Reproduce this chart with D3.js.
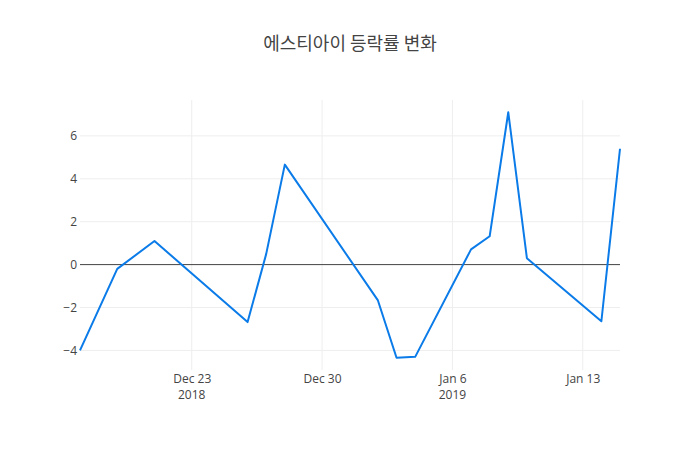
<!DOCTYPE html>
<html>
<head>
<meta charset="utf-8">
<script src="https://cdn.jsdelivr.net/npm/d3@7"></script>
<style>
  body { margin: 0; background: #fff; }
  text { font-family: "Open Sans", "Noto Sans CJK KR", sans-serif; fill: #444; }
</style>
</head>
<body>
<div id="chart"></div>
<script>
// trading days and daily change (%)
var dates = ['2018-12-17', '2018-12-19', '2018-12-21', '2018-12-26', '2018-12-27', '2018-12-28',
  '2019-01-02', '2019-01-03', '2019-01-04', '2019-01-07', '2019-01-08', '2019-01-09',
  '2019-01-10', '2019-01-14', '2019-01-15'];
var changes = [-4.0, -0.2, 1.1, -2.68, 0.5, 4.66, -1.67, -4.34, -4.3, 0.71, 1.32, 7.1, 0.3, -2.64, 5.4];
var yTicks = [-4, -2, 0, 2, 4, 6];
var title = '에스티아이 등락률 변화';

var svgWidth = 700;
var svgHeight = 450;
var margin = { top: 100, right: 80, bottom: 80, left: 80 };
var width = svgWidth - margin.left - margin.right;
var height = svgHeight - margin.top - margin.bottom;

var parseDate = d3.timeParse('%Y-%m-%d');
var data = dates.map((d, i) => ({ date: parseDate(d), value: changes[i] }));

var svg = d3.select('#chart')
  .append('svg')
  .attr('width', svgWidth)
  .attr('height', svgHeight);

var chartGroup = svg.append('g')
  .attr('transform', `translate(${margin.left}, ${margin.top})`);

// scales (plotly-like autorange with 5% padding on y)
var xScale = d3.scaleTime()
  .domain(d3.extent(data, d => d.date))
  .range([0, width]);

var yMin = d3.min(changes), yMax = d3.max(changes);
var pad = (yMax - yMin) * 0.05;
var yScale = d3.scaleLinear()
  .domain([yMin - pad, yMax + pad])
  .range([height, 0]);

// x ticks weekly on Sundays
var xTicks = [parseDate('2018-12-23'), parseDate('2018-12-30'), parseDate('2019-01-06'), parseDate('2019-01-13')];

// gridlines
chartGroup.append('g')
  .selectAll('line')
  .data(xTicks)
  .enter()
  .append('line')
  .attr('x1', d => xScale(d))
  .attr('x2', d => xScale(d))
  .attr('y1', 0)
  .attr('y2', height)
  .attr('stroke', '#eee')
  .attr('stroke-width', 1);

chartGroup.append('g')
  .selectAll('line')
  .data(yTicks.filter(d => d !== 0))
  .enter()
  .append('line')
  .attr('x1', 0)
  .attr('x2', width)
  .attr('y1', d => yScale(d))
  .attr('y2', d => yScale(d))
  .attr('stroke', '#eee')
  .attr('stroke-width', 1);

// zero line
chartGroup.append('line')
  .attr('x1', 0)
  .attr('x2', width)
  .attr('y1', yScale(0))
  .attr('y2', yScale(0))
  .attr('stroke', '#444')
  .attr('stroke-width', 1);

// axes (no domain lines, no tick marks)
var xAxis = d3.axisBottom(xScale)
  .tickValues(xTicks)
  .tickSize(0)
  .tickFormat(d3.timeFormat('%b %-d'));

var xAxisGroup = chartGroup.append('g')
  .attr('transform', `translate(0, ${height})`)
  .call(xAxis);
xAxisGroup.select('.domain').remove();
xAxisGroup.selectAll('text')
  .attr('dy', null)
  .attr('y', 13)
  .style('font-size', '12px')
  .style('font-family', '"Open Sans", sans-serif')
  .attr('fill', '#444');

// year labels below first tick of each year
var yearLabels = [[xTicks[0], '2018'], [xTicks[2], '2019']];
xAxisGroup.selectAll('.year')
  .data(yearLabels)
  .enter()
  .append('text')
  .attr('class', 'year')
  .attr('x', d => xScale(d[0]))
  .attr('y', 29)
  .attr('text-anchor', 'middle')
  .style('font-size', '12px')
  .text(d => d[1]);

var yAxis = d3.axisLeft(yScale)
  .tickValues(yTicks)
  .tickSize(0)
  .tickPadding(3)
  .tickFormat(d => d < 0 ? '\u2212' + Math.abs(d) : d);

var yAxisGroup = chartGroup.append('g').call(yAxis);
yAxisGroup.select('.domain').remove();
yAxisGroup.selectAll('text')
  .style('font-size', '12px')
  .style('font-family', '"Open Sans", sans-serif')
  .attr('fill', '#444');

// line
var line = d3.line()
  .x(d => xScale(d.date))
  .y(d => yScale(d.value));

chartGroup.append('path')
  .datum(data)
  .attr('d', line)
  .attr('fill', 'none')
  .attr('stroke', '#0a7be8')
  .attr('stroke-width', 2)
  .attr('stroke-linejoin', 'round');

// title
svg.append('text')
  .attr('x', svgWidth / 2)
  .attr('y', 50)
  .attr('text-anchor', 'middle')
  .style('font-family', '"Noto Sans CJK KR", sans-serif')
  .style('font-size', '18px')
  .text(title);
</script>
</body>
</html>
